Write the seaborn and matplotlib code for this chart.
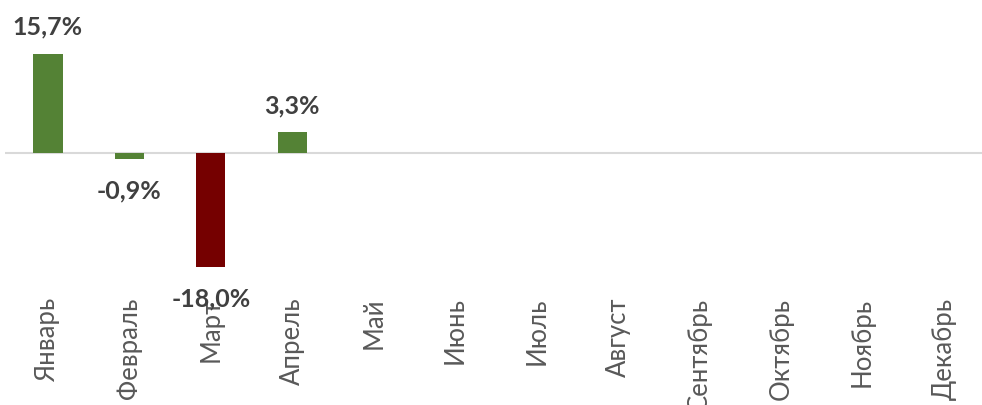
import numpy as np
import pandas as pd
import matplotlib
matplotlib.use("Agg")
import matplotlib.pyplot as plt
import seaborn as sns

months = ["Январь", "Февраль", "Март", "Апрель", "Май", "Июнь", "Июль",
          "Август", "Сентябрь", "Октябрь", "Ноябрь", "Декабрь"]
values = [15.7, -0.9, -18.0, 3.3, np.nan, np.nan, np.nan, np.nan,
          np.nan, np.nan, np.nan, np.nan]
bar_colors = ["#548235", "#548235", "#750000", "#548235", "#548235", "#548235",
              "#548235", "#548235", "#548235", "#548235", "#548235", "#548235"]

df = pd.DataFrame({"month": months, "value": values})

sns.set_theme(style="white")
plt.rcParams["font.family"] = ["Lato", "DejaVu Sans"]

fig = plt.figure(figsize=(9.82, 4.05), dpi=100)
ax = fig.add_axes([0.005, 1 - 285 / 405, 0.995, 285 / 405])

sns.barplot(data=df, x="month", y="value", hue="month", order=months,
            hue_order=months, palette=dict(zip(months, bar_colors)),
            width=0.36, legend=False, ax=ax, errorbar=None, saturation=1,
            linewidth=0)

ax.set_xlim(-0.528, 11.467)
ax.set_ylim(-(285 - 153) / 6.32, 153 / 6.32)
ax.axhline(0, color="#d9d9d9", lw=1.5, zorder=0)

for i, v in enumerate(values):
    if np.isnan(v):
        continue
    txt = f"{v:.1f}".replace(".", ",") + "%"
    off = 19 if v >= 0 else -23
    ax.annotate(txt, (i, v), xytext=(0, off), textcoords="offset points",
                ha="center", va="center", fontsize=18, fontweight="bold",
                color="#404040", zorder=5)

for s in ax.spines.values():
    s.set_visible(False)
ax.set_yticks([])
ax.set_xlabel("")
ax.set_ylabel("")
ax.tick_params(axis="x", length=0, pad=9, labelsize=18.5, labelcolor="#595959")
plt.setp(ax.get_xticklabels(), rotation=90, va="top", ha="center")

fig.savefig("out.png", dpi=100)
